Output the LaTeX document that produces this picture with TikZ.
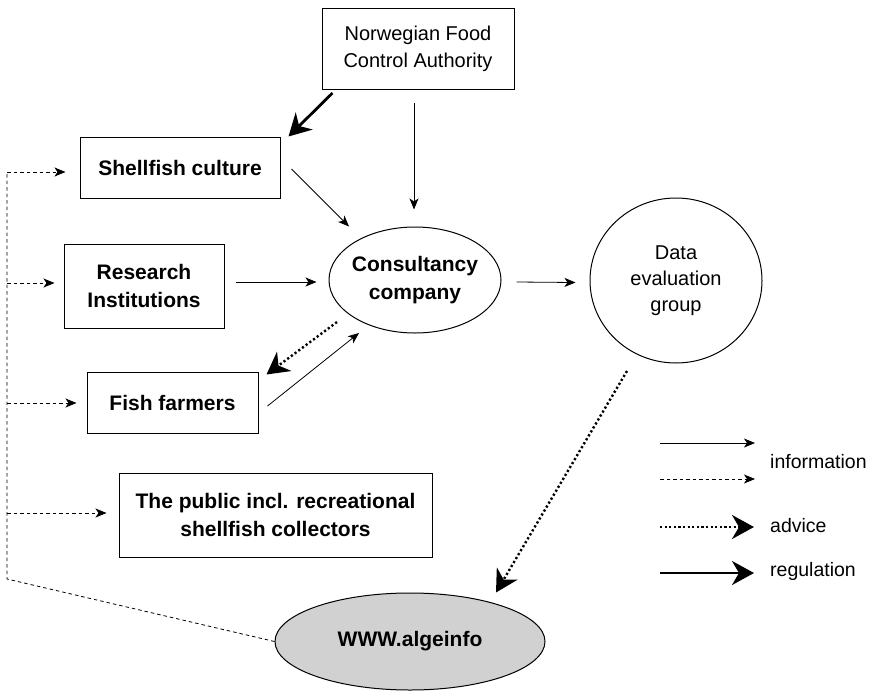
\documentclass[tikz,border=0pt]{standalone}
\usepackage{fontspec}
\setmainfont{Liberation Sans}
\usetikzlibrary{arrows.meta,calc,shapes.geometric}
\begin{document}
\begin{tikzpicture}[x=1pt,y=-1pt,
  box/.style={draw,line width=1pt,rectangle,align=center,inner sep=0pt},
  oval/.style={draw,line width=1pt,ellipse,inner sep=0pt},
  boldtxt/.style={font=\fontsize{21}{28}\selectfont\bfseries},
  plaintxt/.style={font=\fontsize{20}{27}\selectfont},
  keytxt/.style={font=\fontsize{19.5}{24}\selectfont,anchor=west,inner sep=0pt},
  info/.style={line width=0.8pt,-{Stealth[length=11pt,width=9pt,inset=3pt]}},
  infodash/.style={info,dash pattern=on 3.5pt off 3pt},
  link/.style={line width=0.8pt,dash pattern=on 3.5pt off 3pt},
  advice/.style={line width=2.4pt,dash pattern=on 2.2pt off 2.4pt,-{Stealth[length=22pt,width=24pt,inset=7pt]}},
  regulation/.style={line width=2.8pt,-{Stealth[length=22pt,width=24pt,inset=7pt]}}
]
\useasboundingbox (0,0) rectangle (876,691);

% boxes
\node[box,plaintxt,minimum width=192pt,minimum height=81pt] (nfca) at (418,48.5)
  {Norwegian Food\\Control Authority};
\node[box,boldtxt,minimum width=200pt,minimum height=61pt] (shell) at (180,167.5)
  {Shellfish culture};
\node[box,boldtxt,minimum width=160pt,minimum height=84pt] (research) at (144,286)
  {Research\\Institutions};
\node[box,boldtxt,minimum width=171pt,minimum height=61pt] (fish) at (172.5,402.5)
  {Fish farmers};
\node[box,boldtxt,minimum width=313pt,minimum height=84pt] (public) at (275.5,515)
  {The public incl. recreational\\shellfish collectors};

% ellipses
\node[oval,minimum width=172pt,minimum height=106pt,
  label={[boldtxt,align=center]center:Consultancy\\company}] (cons) at (415,280) {};
\node[oval,minimum width=172pt,minimum height=165pt,
  label={[font=\fontsize{20}{26}\selectfont,align=center]center:Data\\evaluation\\group}] (data) at (676,280.5) {};
\node[oval,fill=black!18,minimum width=270pt,minimum height=97pt,
  label={[boldtxt]center:WWW.algeinfo}] (www) at (410,641.5) {};

% regulation and information flows
\draw[regulation] ($(nfca.south west)+(11,3.5)$) -- ($(shell.north east)+(8,0)$);
\draw[info] ($(nfca.south)+(-4,13)$) -- ($(cons.north)+(-1,-17)$);
\draw[info] ($(shell.east)+(11,1.5)$) -- ($(cons.north)+(-66,0)$);
\draw[info] ($(research.east)+(11,-4)$) -- ($(cons.west)+(-12,2)$);
\draw[info] ($(cons.east)+(15,2)$) -- ($(data.west)+(-14,2)$);
\draw[advice] ($(cons.center)+(-78,42)$) -- ($(fish.north east)+(8,3)$);
\draw[info] ($(fish.east)+(9,3.5)$) -- ($(cons.center)+(-56,53)$);
\draw[advice] ($(data.center)+(-49,90.5)$) -- ($(www.north)+(86,0)$);

% web distribution line
\coordinate (bend) at (7,579);
\coordinate (j1) at (7,172);
\coordinate (j2) at (7,283);
\coordinate (j3) at (7,403);
\coordinate (j4) at (7,513);
\draw[link] (www.west) -- (bend) -- (j1);
\draw[infodash] (j1) -- ($(j1 -| shell.west)+(-14,0)$);
\draw[infodash] (j2) -- ($(j2 -| research.west)+(-9,0)$);
\draw[infodash] (j3) -- ($(j3 -| fish.west)+(-10,0)$);
\draw[infodash] (j4) -- ($(j4 -| public.west)+(-12,0)$);

% key
\coordinate (k1a) at (660,443); \coordinate (k1b) at (755,443);
\coordinate (k2a) at (660,479); \coordinate (k2b) at (755,479);
\coordinate (k3a) at (660,527); \coordinate (k3b) at (754,527);
\coordinate (k4a) at (660,573); \coordinate (k4b) at (754,573);
\draw[info] (k1a) -- (k1b);
\draw[infodash] (k2a) -- (k2b);
\draw[advice] (k3a) -- (k3b);
\draw[regulation] (k4a) -- (k4b);
\node[keytxt] (kinfo) at (770,462) {information};
\node[keytxt] (kadv) at (770,526) {advice};
\node[keytxt] (kreg) at (770,571) {regulation};
\end{tikzpicture}
\end{document}
